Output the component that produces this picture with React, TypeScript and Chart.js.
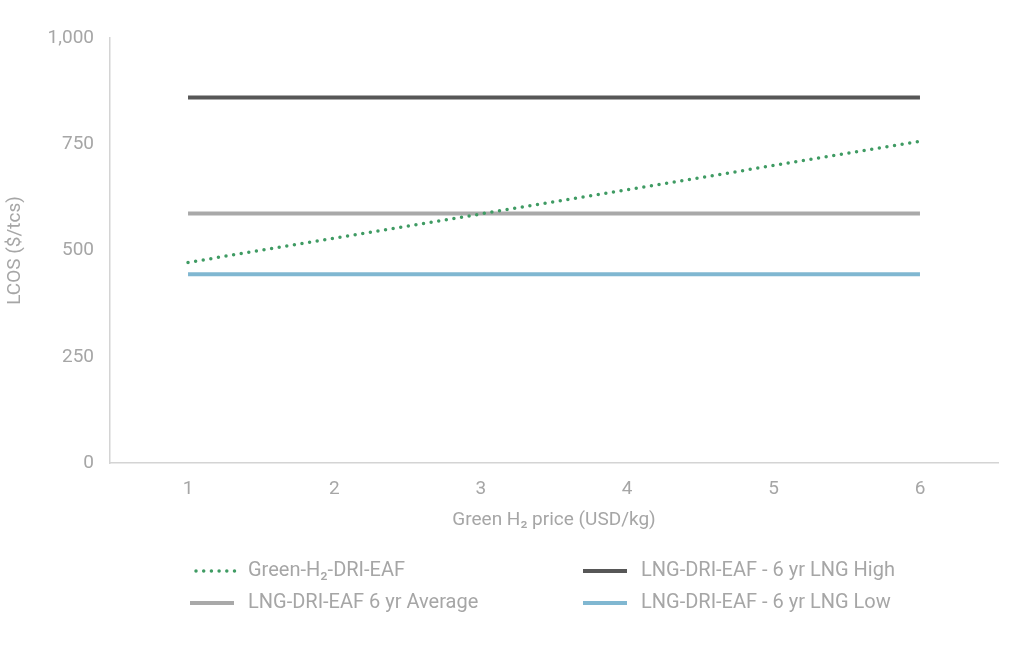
import { useRef, useEffect } from 'react';
import { Chart } from 'chart.js/auto';

// H2 price categories (USD/kg)
const h2Prices = [1, 2, 3, 4, 5, 6];
// LCOS values ($/tcs)
const greenH2 = [472, 529, 586, 643, 700, 757];
const lngHigh = [860, 860, 860, 860, 860, 860];
const lngAverage = [587, 587, 587, 587, 587, 587];
const lngLow = [444, 444, 444, 444, 444, 444];
const yTicks = [0, 250, 500, 750, 1000];

const FONT = 'Roboto, "Noto Sans", sans-serif';
const TEXT = '#a6a6a6';

const series = [
  { label: 'Green-H₂-DRI-EAF', data: greenH2, color: '#3f9b63', dotted: true },
  { label: 'LNG-DRI-EAF - 6 yr LNG High', data: lngHigh, color: '#575757', dotted: false },
  { label: 'LNG-DRI-EAF 6 yr Average', data: lngAverage, color: '#a9a9a9', dotted: false },
  { label: 'LNG-DRI-EAF - 6 yr LNG Low', data: lngLow, color: '#80b7d1', dotted: false },
];

// legend in two columns, drawn under the chart
const legendPlugin = {
  id: 'gridLegend',
  afterDraw(chart: any) {
    const ctx = chart.ctx;
    const slots = [
      { i: 0, x: 193, tx: 248, y: 571 },
      { i: 1, x: 583, tx: 641, y: 571 },
      { i: 2, x: 190, tx: 248, y: 603 },
      { i: 3, x: 583, tx: 641, y: 603 },
    ];
    ctx.save();
    slots.forEach(s => {
      const ser = series[s.i];
      ctx.strokeStyle = ser.color;
      ctx.lineWidth = ser.dotted ? 3.5 : 4;
      ctx.lineCap = ser.dotted ? 'round' : 'butt';
      ctx.setLineDash(ser.dotted ? [0, 7.7] : []);
      ctx.beginPath();
      ctx.moveTo(s.x + (ser.dotted ? 3 : 0), s.y);
      ctx.lineTo(s.x + 44, s.y);
      ctx.stroke();
      ctx.setLineDash([]);
      ctx.fillStyle = TEXT;
      ctx.font = `20px ${FONT}`;
      ctx.textBaseline = 'middle';
      ctx.textAlign = 'left';
      ctx.fillText(ser.label, s.tx, s.y);
    });
    ctx.restore();
  },
};

const App = () => {
  const canvasRef = useRef(null);
  const chartRef = useRef(null);

  useEffect(() => {
    if (!canvasRef.current) return;
    if (chartRef.current) chartRef.current.destroy();

    chartRef.current = new Chart(canvasRef.current, {
      type: 'line',
      data: {
        datasets: series.map(s => ({
          label: s.label,
          data: s.data.map((v, i) => ({ x: h2Prices[i], y: v })),
          borderColor: s.color,
          backgroundColor: s.color,
          borderWidth: s.dotted ? 3.5 : 4,
          borderDash: s.dotted ? [0, 7.7] : [],
          borderCapStyle: s.dotted ? 'round' : 'butt',
          pointRadius: 0,
          tension: 0,
          fill: false,
        })),
      },
      options: {
        animation: false,
        responsive: true,
        maintainAspectRatio: false,
        layout: { padding: { top: 38, right: 12, left: 0, bottom: 126 } },
        plugins: {
          legend: { display: false },
          tooltip: { enabled: false },
        },
        scales: {
          x: {
            type: 'linear',
            min: 0.467,
            max: 6.533,
            afterBuildTicks: (scale: any) => { scale.ticks = h2Prices.map(v => ({ value: v })); },
            afterFit: (scale: any) => { scale.height = 69; },
            grid: { display: false, drawTicks: false },
            border: { display: true, color: '#d4d4d4', width: 1.5 },
            ticks: { color: TEXT, font: { family: FONT, size: 19 }, padding: 15 },
            title: {
              display: true,
              text: 'Green H₂ price (USD/kg)',
              color: TEXT,
              font: { family: FONT, size: 19 },
              padding: { top: 0, bottom: 0 },
            },
          },
          y: {
            min: 0,
            max: 1000,
            afterBuildTicks: (scale: any) => { scale.ticks = yTicks.map(v => ({ value: v })); },
            afterFit: (scale: any) => { scale.width = 110; },
            grid: { display: false, drawTicks: false },
            border: { display: true, color: '#d4d4d4', width: 1.5 },
            ticks: {
              color: TEXT,
              font: { family: FONT, size: 19 },
              padding: 16,
              callback: (v: any) => Number(v).toLocaleString('en-US'),
            },
            title: {
              display: true,
              text: 'LCOS ($/tcs)',
              color: TEXT,
              font: { family: FONT, size: 19 },
              padding: { top: 4, bottom: 0 },
            },
          },
        },
      },
      plugins: [legendPlugin],
    } as any);

    return () => { if (chartRef.current) chartRef.current.destroy(); };
  }, []);

  return (
    <div style={{ position: 'fixed', left: 0, top: 0, width: 1010, height: 658, background: '#fff' }}>
      <canvas ref={canvasRef}></canvas>
    </div>
  );
};

export default App;
